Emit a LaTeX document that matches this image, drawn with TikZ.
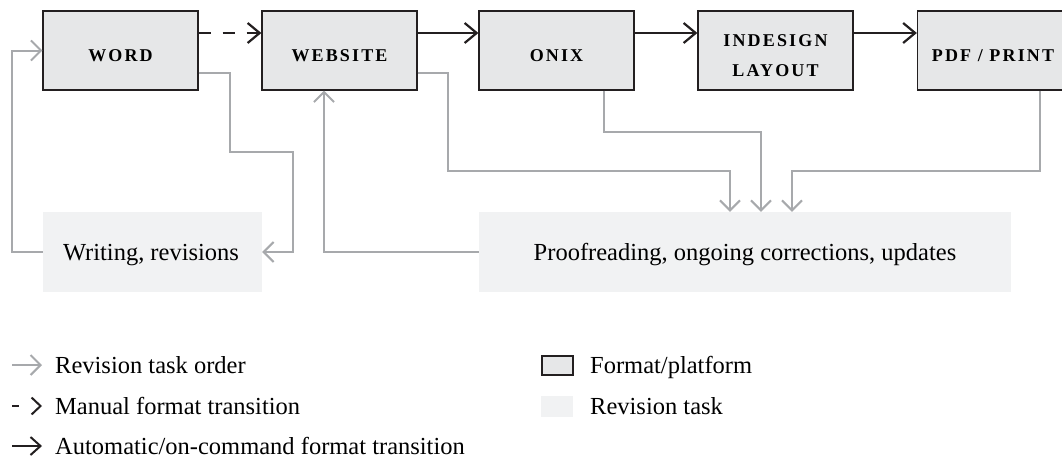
\documentclass[tikz,border=0pt]{standalone}
\usepackage{fontspec}
\setmainfont{Liberation Serif}
\newfontfamily\capsfont{Liberation Serif}[LetterSpace=12]
\usetikzlibrary{arrows.meta}
\definecolor{dark}{HTML}{231F20}
\definecolor{boxfill}{HTML}{E6E7E8}
\definecolor{lgray}{HTML}{A7A9AC}
\definecolor{revfill}{HTML}{F1F2F3}
\begin{document}
\begin{tikzpicture}[x=1pt,y=-1pt,
  fmt/.style={draw=dark, fill=boxfill, line width=1.3pt, minimum width=155pt, minimum height=79pt, inner sep=0pt},
  rtask/.style={fill=revfill, inner sep=0pt},
  caps/.style={font=\capsfont\bfseries\fontsize{18}{22}\selectfont, anchor=base, inner sep=0pt},
  body/.style={font=\fontsize{24.5}{28}\selectfont, anchor=base, inner sep=0pt},
  rev/.style={draw=lgray, line width=2pt, -{Straight Barb[length=10pt,width=20pt]}},
  autoarr/.style={draw=dark, line width=2.2pt, -{Straight Barb[length=12pt,width=20pt]}},
  manarr/.style={autoarr, dash pattern=on 12pt off 12pt}]
\useasboundingbox (0,0) rectangle (1062,458);

% format boxes
\node[fmt] (word) at (120.5,50.5) {};
\node[fmt] (website) at (339.5,50.5) {};
\node[fmt] (onix) at (556.5,50.5) {};
\node[fmt] (indesign) at (775.5,50.5) {};
\node[fmt] (pdf) at (995,50.5) {};
\node[caps] (wordt) at (120.5,61) {WORD};
\node[caps] (websitet) at (339.5,61) {WEBSITE};
\node[caps] (onixt) at (556.5,61) {ONIX};
\node[caps] (indt1) at (775.5,46) {INDESIGN};
\node[caps] (indt2) at (775.5,76) {LAYOUT};
\node[caps] (pdft) at (993,61) {PDF / PRINT};

% revision tasks
\node[rtask, minimum width=219pt, minimum height=80pt] (writing) at (152.5,252) {};
\node[rtask, minimum width=532pt, minimum height=80pt] (proof) at (745,252) {};
\node[body] (writingt) at (151,260) {Writing, revisions};
\node[body] (prooft) at (745,260) {Proofreading, ongoing corrections, updates};

% format transitions
\draw[manarr] ([yshift=17.5pt]word.east) -- ([yshift=17.5pt]website.west);
\draw[autoarr] ([yshift=17.5pt]website.east) -- ([yshift=17.5pt]onix.west);
\draw[autoarr] ([yshift=17.5pt]onix.east) -- ([yshift=17.5pt]indesign.west);
\draw[autoarr] ([yshift=17.5pt]indesign.east) -- ([yshift=17.5pt]pdf.west);

% revision order
\draw[rev] (writing.west) -- (12,252) -- (12,50.5) -- (word.west);
\draw[rev] ([yshift=-22.5pt]word.east) -- (230,73) -- (230,152) -- (293,152) -- (293,252) -- (writing.east);
\draw[rev] (proof.west) -- (324,252) -- ([xshift=-15.5pt]website.south);
\draw[rev] ([yshift=-22.5pt]website.east) -- (448,73) -- (448,171) -- (730,171) -- ([xshift=-15pt]proof.north);
\draw[rev] ([xshift=47.5pt]onix.south) -- (604,132) -- (761,132) -- ([xshift=16pt]proof.north);
\draw[rev] ([xshift=45pt]pdf.south) -- (1040,171) -- (792,171) -- ([xshift=47pt]proof.north);

% legend
\coordinate (l1s) at (12,365); \coordinate (l1e) at (42,365);
\coordinate (l2s) at (12,406); \coordinate (l2e) at (42,406);
\coordinate (l3s) at (12,446); \coordinate (l3e) at (42,446);
\draw[rev] (l1s) -- (l1e);
\draw[autoarr, line width=2pt, -{Straight Barb[length=9pt,width=17pt]}, dash pattern=on 7pt off 40pt] (l2s) -- (l2e);
\draw[autoarr, line width=2pt, -{Straight Barb[length=10pt,width=18pt]}] (l3s) -- (l3e);
\node[body, anchor=base west] (lg1) at (55,373) {Revision task order};
\node[body, anchor=base west] (lg2) at (55,414) {Manual format transition};
\node[body, anchor=base west] (lg3) at (55,454) {Automatic/on-command format transition};
\node[fmt, minimum width=31pt, minimum height=19pt] (sq1) at (557.5,365.5) {};
\node[rtask, minimum width=32pt, minimum height=21pt] (sq2) at (557,406.5) {};
\node[body, anchor=base west] (lg4) at (590,373) {Format/platform};
\node[body, anchor=base west] (lg5) at (590,414) {Revision task};
\end{tikzpicture}
\end{document}
